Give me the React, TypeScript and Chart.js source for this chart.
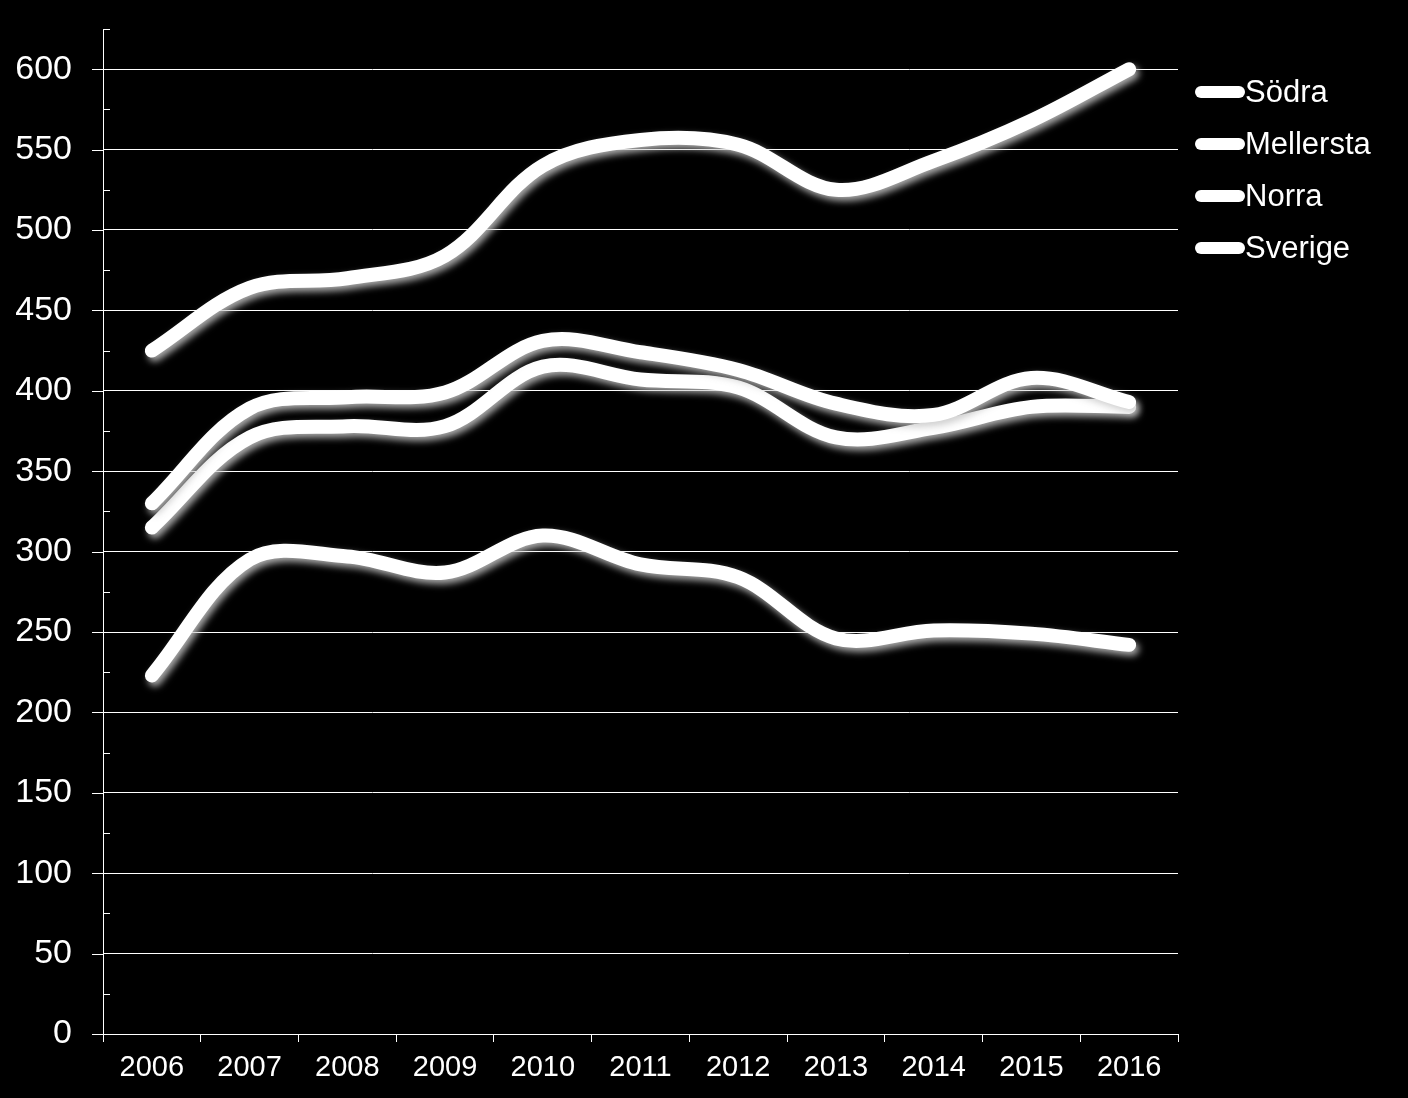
import React, { useEffect, useRef } from "react";
import { Chart, registerables } from "chart.js";

Chart.register(...registerables);

const years = ["2006", "2007", "2008", "2009", "2010", "2011", "2012", "2013", "2014", "2015", "2016"];
const sodra = [425, 464, 470, 484, 540, 556, 553, 525, 543, 568, 600];
const mellersta = [330, 389, 396, 399, 431, 424, 413, 392, 385, 408, 393];
const norra = [223, 295, 297, 287, 310, 292, 284, 246, 251, 249, 242];
const sverige = [315, 371, 378, 378, 415, 407, 402, 371, 377, 390, 390];
const seriesNames = ["Södra", "Mellersta", "Norra", "Sverige"];

const FONT = "'Liberation Sans', Arial, sans-serif";

const shadowPlugin = {
  id: "lineShadow",
  beforeDatasetDraw(chart: any) {
    const ctx = chart.ctx;
    ctx.save();
    ctx.shadowColor = "rgba(200,200,200,0.85)";
    ctx.shadowBlur = 7;
    ctx.shadowOffsetX = 3;
    ctx.shadowOffsetY = 4;
  },
  afterDatasetDraw(chart: any) {
    chart.ctx.restore();
  },
};

const axisTickPlugin = {
  id: "axisTicks",
  afterDraw(chart: any) {
    const y = chart.scales.y;
    const ctx = chart.ctx;
    const left = chart.chartArea.left;
    ctx.save();
    ctx.strokeStyle = "#ffffff";
    ctx.lineWidth = 1;
    y.ticks.forEach((t: any) => {
      const py = Math.round(y.getPixelForValue(t.value)) + 0.5;
      ctx.beginPath();
      if (t.value % 50 === 0) {
        ctx.moveTo(left - 11, py);
        ctx.lineTo(left, py);
      } else {
        ctx.moveTo(left, py);
        ctx.lineTo(left + 7, py);
      }
      ctx.stroke();
    });
    ctx.restore();
  },
};

const legendPlugin = {
  id: "customLegend",
  afterDraw(chart: any) {
    const ctx = chart.ctx;
    const area = chart.chartArea;
    const top = chart.scales.y.getPixelForValue(625);
    ctx.save();
    chart.data.datasets.forEach((ds: any, i: number) => {
      const cy = top + 63 + i * 52;
      const x0 = area.right + 23;
      const x1 = area.right + 61;
      ctx.strokeStyle = "#ffffff";
      ctx.lineWidth = 12;
      ctx.lineCap = "round";
      ctx.beginPath();
      ctx.moveTo(x0, cy);
      ctx.lineTo(x1, cy);
      ctx.stroke();
      ctx.fillStyle = "#ffffff";
      ctx.font = `31px ${FONT}`;
      ctx.textBaseline = "middle";
      ctx.textAlign = "left";
      ctx.fillText(ds.label, area.right + 67, cy + 1);
    });
    ctx.restore();
  },
};

export default function App() {
  const canvasRef = useRef<HTMLCanvasElement | null>(null);

  useEffect(() => {
    if (!canvasRef.current) return;
    const values = [sodra, mellersta, norra, sverige];
    const chart = new Chart(canvasRef.current, {
      type: "line",
      data: {
        labels: years,
        datasets: values.map((d, i) => ({
          label: seriesNames[i],
          data: d,
          borderColor: "#ffffff",
          borderWidth: 14,
          borderCapStyle: "round",
          borderJoinStyle: "round",
          pointRadius: 0,
          tension: 0.35,
          fill: false,
        })),
      },
      options: {
        animation: false,
        responsive: true,
        maintainAspectRatio: false,
        layout: { padding: { top: 29, right: 230, left: 0, bottom: 0 } },
        plugins: {
          legend: { display: false },
          tooltip: { enabled: false },
        },
        scales: {
          x: {
            type: "category",
            offset: true,
            grid: {
              offset: true,
              drawOnChartArea: false,
              color: "#ffffff",
              tickColor: "#ffffff",
              tickLength: 8,
            },
            border: { display: true, color: "#ffffff", width: 1 },
            ticks: {
              color: "#ffffff",
              font: { family: FONT, size: 29 },
              padding: 9,
              maxRotation: 0,
              autoSkip: false,
            },
            afterFit: (scale: any) => {
              scale.height = 64;
            },
          },
          y: {
            min: 0,
            max: 625,
            grid: {
              color: (c: any) => (c.tick && c.tick.value % 50 === 0 ? "#ffffff" : "rgba(0,0,0,0)"),
              tickColor: "rgba(0,0,0,0)",
              tickLength: 31,
              lineWidth: 1,
            },
            border: { display: true, color: "#ffffff", width: 1 },
            ticks: {
              stepSize: 25,
              autoSkip: false,
              color: "#ffffff",
              font: { family: FONT, size: 34 },
              padding: 0,
              callback: (v: any) => (Number(v) % 50 === 0 ? String(v) : ""),
            },
            afterFit: (scale: any) => {
              scale.width = 103;
            },
          },
        },
      },
      plugins: [shadowPlugin, axisTickPlugin, legendPlugin],
    });
    return () => chart.destroy();
  }, []);

  return (
    <div
      style={{
        position: "absolute",
        left: 0,
        top: 0,
        width: 1408,
        height: 1098,
        background: "#000000",
      }}
    >
      <canvas ref={canvasRef} />
    </div>
  );
}
